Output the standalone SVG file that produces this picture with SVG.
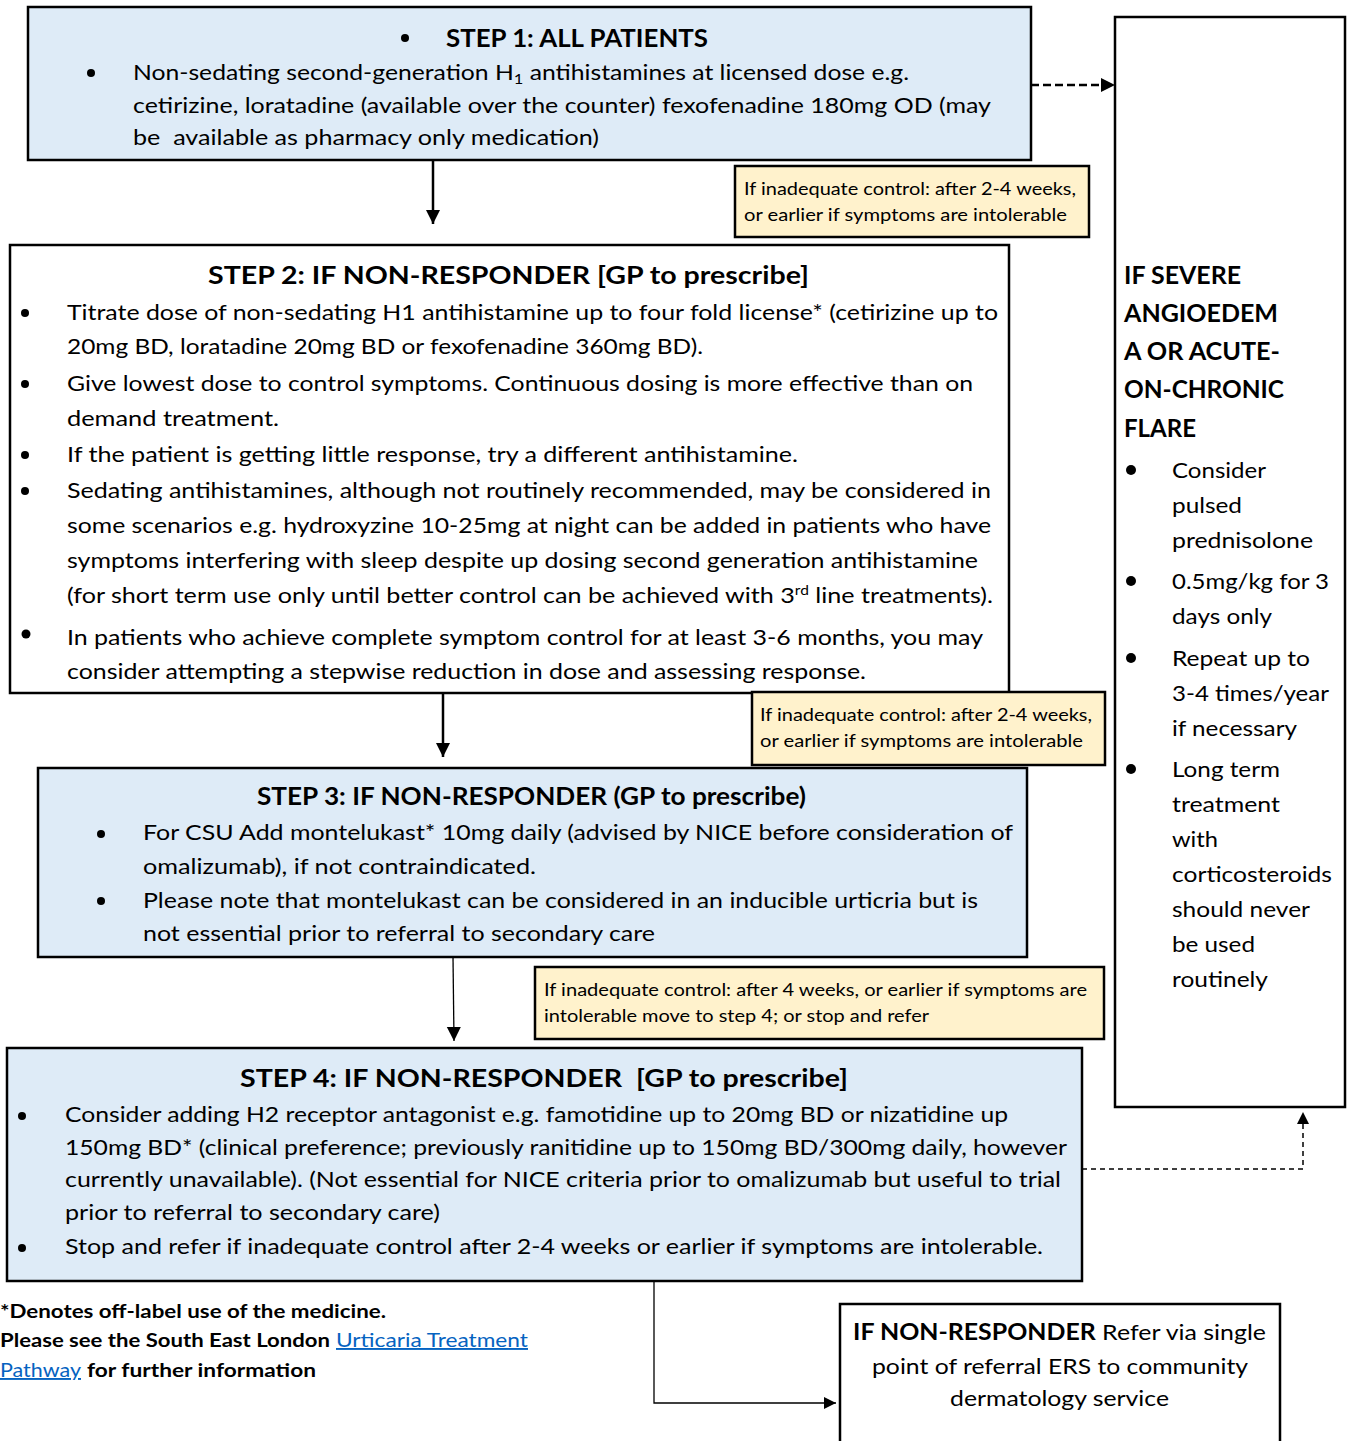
<svg xmlns="http://www.w3.org/2000/svg" width="1351" height="1441" viewBox="0 0 1351 1441">
<defs>
<style>
text{font-family:Lato,"Open Sans","Liberation Sans",sans-serif;fill:#000}
.t{font-size:25px;font-weight:bold}
.b{font-size:21px}
.y{font-size:17px}
.rb{font-size:24px;font-weight:bold}
.rt{font-size:22px}
.f{font-size:19px;font-weight:bold}
.lk{fill:#0563C1;font-weight:normal;text-decoration:underline}
.blue{fill:#DEEBF7;stroke:#000;stroke-width:2.5}
.white{fill:#fff;stroke:#000;stroke-width:2.5}
.note{fill:#FFF2CC;stroke:#000;stroke-width:2.5}
.c{fill:none;stroke:#000}
</style>
<marker id="ah" markerUnits="userSpaceOnUse" markerWidth="16" markerHeight="16" refX="14" refY="8" orient="auto"><path d="M0,1 L14,8 L0,15 z" fill="#000"/></marker>
<marker id="ahs" markerUnits="userSpaceOnUse" markerWidth="14" markerHeight="14" refX="12" refY="7" orient="auto"><path d="M0,1 L12,7 L0,13 z" fill="#000"/></marker>
</defs>

<g id="connectors">
<line class="c" x1="433" y1="160" x2="433" y2="224" stroke-width="2.5" marker-end="url(#ah)"/>
<line class="c" x1="443" y1="693" x2="443" y2="757" stroke-width="2.5" marker-end="url(#ah)"/>
<line class="c" x1="453" y1="957" x2="454" y2="1041" stroke-width="1.3" marker-end="url(#ah)"/>
<line class="c" x1="1031" y1="85" x2="1115" y2="85" stroke-width="2.5" stroke-dasharray="8,4" marker-end="url(#ah)"/>
<polyline class="c" points="1082,1169 1303,1169 1303,1112" stroke-width="1.5" stroke-dasharray="5,4" marker-end="url(#ahs)"/>
<polyline class="c" points="654,1281 654,1403 836,1403" stroke-width="1.3" marker-end="url(#ahs)"/>
</g>

<g id="step1">
<rect class="blue" x="28" y="7" width="1003" height="153"/>
<circle cx="405" cy="38" r="4"/>
<text class="t" x="446" y="47" textLength="262" lengthAdjust="spacingAndGlyphs">STEP 1: ALL PATIENTS</text>
<circle cx="91" cy="73" r="4"/>
<text class="b" x="133" y="80" textLength="776" lengthAdjust="spacingAndGlyphs">Non-sedating second-generation H<tspan font-size="14" dy="4">1</tspan><tspan dy="-4"> antihistamines at licensed dose e.g.</tspan></text>
<text class="b" x="133" y="113" textLength="858" lengthAdjust="spacingAndGlyphs">cetirizine, loratadine (available over the counter) fexofenadine 180mg OD (may</text>
<text class="b" x="133" y="145" textLength="466" lengthAdjust="spacingAndGlyphs" xml:space="preserve">be  available as pharmacy only medication)</text>
</g>

<g id="note1">
<rect class="note" x="735" y="166" width="354" height="71"/>
<text class="y" x="744" y="195" textLength="332" lengthAdjust="spacingAndGlyphs">If inadequate control: after 2-4 weeks,</text>
<text class="y" x="744" y="221" textLength="323" lengthAdjust="spacingAndGlyphs">or earlier if symptoms are intolerable</text>
</g>

<g id="step2">
<rect class="white" x="10" y="245" width="999" height="448"/>
<text class="t" x="208" y="284" textLength="601" lengthAdjust="spacingAndGlyphs">STEP 2: IF NON-RESPONDER [GP to prescribe]</text>
<circle cx="25" cy="313" r="4"/>
<text class="b" x="67" y="320" textLength="931" lengthAdjust="spacingAndGlyphs">Titrate dose of non-sedating H1 antihistamine up to four fold license* (cetirizine up to</text>
<text class="b" x="67" y="354" textLength="636" lengthAdjust="spacingAndGlyphs">20mg BD, loratadine 20mg BD or fexofenadine 360mg BD).</text>
<circle cx="25" cy="384" r="4"/>
<text class="b" x="67" y="391" textLength="906" lengthAdjust="spacingAndGlyphs">Give lowest dose to control symptoms. Continuous dosing is more effective than on</text>
<text class="b" x="67" y="426" textLength="212" lengthAdjust="spacingAndGlyphs">demand treatment.</text>
<circle cx="25" cy="455" r="4"/>
<text class="b" x="67" y="462" textLength="731" lengthAdjust="spacingAndGlyphs">If the patient is getting little response, try a different antihistamine.</text>
<circle cx="25" cy="491" r="4"/>
<text class="b" x="67" y="498" textLength="924" lengthAdjust="spacingAndGlyphs">Sedating antihistamines, although not routinely recommended, may be considered in</text>
<text class="b" x="67" y="533" textLength="924" lengthAdjust="spacingAndGlyphs">some scenarios e.g. hydroxyzine 10-25mg at night can be added in patients who have</text>
<text class="b" x="67" y="568" textLength="911" lengthAdjust="spacingAndGlyphs">symptoms interfering with sleep despite up dosing second generation antihistamine</text>
<text class="b" x="67" y="603" textLength="926" lengthAdjust="spacingAndGlyphs">(for short term use only until better control can be achieved with 3<tspan font-size="13" dy="-8">rd</tspan><tspan dy="8"> line treatments).</tspan></text>
<circle cx="26" cy="634" r="4.5"/>
<text class="b" x="67" y="645" textLength="916" lengthAdjust="spacingAndGlyphs">In patients who achieve complete symptom control for at least 3-6 months, you may</text>
<text class="b" x="67" y="679" textLength="799" lengthAdjust="spacingAndGlyphs">consider attempting a stepwise reduction in dose and assessing response.</text>
</g>

<g id="note2">
<rect class="note" x="752" y="692" width="353" height="73"/>
<text class="y" x="760" y="721" textLength="332" lengthAdjust="spacingAndGlyphs">If inadequate control: after 2-4 weeks,</text>
<text class="y" x="760" y="747" textLength="323" lengthAdjust="spacingAndGlyphs">or earlier if symptoms are intolerable</text>
</g>

<g id="step3">
<rect class="blue" x="38" y="768" width="989" height="189"/>
<text class="t" x="257" y="805" textLength="549" lengthAdjust="spacingAndGlyphs">STEP 3: IF NON-RESPONDER (GP to prescribe)</text>
<circle cx="101" cy="834" r="4"/>
<text class="b" x="143" y="840" textLength="870" lengthAdjust="spacingAndGlyphs">For CSU Add montelukast* 10mg daily (advised by NICE before consideration of</text>
<text class="b" x="143" y="874" textLength="393" lengthAdjust="spacingAndGlyphs">omalizumab), if not contraindicated.</text>
<circle cx="101" cy="901" r="4"/>
<text class="b" x="143" y="908" textLength="835" lengthAdjust="spacingAndGlyphs">Please note that montelukast can be considered in an inducible urticria but is</text>
<text class="b" x="143" y="941" textLength="512" lengthAdjust="spacingAndGlyphs">not essential prior to referral to secondary care</text>
</g>

<g id="note3">
<rect class="note" x="535" y="967" width="569" height="72"/>
<text class="y" x="544" y="996" textLength="543" lengthAdjust="spacingAndGlyphs">If inadequate control: after 4 weeks, or earlier if symptoms are</text>
<text class="y" x="544" y="1022" textLength="385" lengthAdjust="spacingAndGlyphs">intolerable move to step 4; or stop and refer</text>
</g>

<g id="step4">
<rect class="blue" x="7" y="1048" width="1075" height="233"/>
<text class="t" x="240" y="1087" textLength="608" lengthAdjust="spacingAndGlyphs" xml:space="preserve">STEP 4: IF NON-RESPONDER  [GP to prescribe]</text>
<circle cx="22" cy="1116" r="4"/>
<text class="b" x="65" y="1122" textLength="943" lengthAdjust="spacingAndGlyphs">Consider adding H2 receptor antagonist e.g. famotidine up to 20mg BD or nizatidine up</text>
<text class="b" x="65" y="1155" textLength="1002" lengthAdjust="spacingAndGlyphs">150mg BD* (clinical preference; previously ranitidine up to 150mg BD/300mg daily, however</text>
<text class="b" x="65" y="1187" textLength="996" lengthAdjust="spacingAndGlyphs">currently unavailable). (Not essential for NICE criteria prior to omalizumab but useful to trial</text>
<text class="b" x="65" y="1220" textLength="375" lengthAdjust="spacingAndGlyphs">prior to referral to secondary care)</text>
<circle cx="22" cy="1248" r="4"/>
<text class="b" x="65" y="1254" textLength="978" lengthAdjust="spacingAndGlyphs">Stop and refer if inadequate control after 2-4 weeks or earlier if symptoms are intolerable.</text>
</g>

<g id="severe">
<rect class="white" x="1115" y="17" width="230" height="1090"/>
<text class="rb" x="1124" y="284" textLength="117" lengthAdjust="spacingAndGlyphs">IF SEVERE</text>
<text class="rb" x="1124" y="322" textLength="154" lengthAdjust="spacingAndGlyphs">ANGIOEDEM</text>
<text class="rb" x="1124" y="360" textLength="156" lengthAdjust="spacingAndGlyphs">A OR ACUTE-</text>
<text class="rb" x="1124" y="398" textLength="160" lengthAdjust="spacingAndGlyphs">ON-CHRONIC</text>
<text class="rb" x="1124" y="437" textLength="72" lengthAdjust="spacingAndGlyphs">FLARE</text>
<circle cx="1131" cy="470" r="5"/>
<text class="rt" x="1172" y="478" textLength="94" lengthAdjust="spacingAndGlyphs">Consider</text>
<text class="rt" x="1172" y="513" textLength="70" lengthAdjust="spacingAndGlyphs">pulsed</text>
<text class="rt" x="1172" y="548" textLength="141" lengthAdjust="spacingAndGlyphs">prednisolone</text>
<circle cx="1131" cy="581" r="5"/>
<text class="rt" x="1172" y="589" textLength="157" lengthAdjust="spacingAndGlyphs">0.5mg/kg for 3</text>
<text class="rt" x="1172" y="624" textLength="100" lengthAdjust="spacingAndGlyphs">days only</text>
<circle cx="1131" cy="658" r="5"/>
<text class="rt" x="1172" y="666" textLength="138" lengthAdjust="spacingAndGlyphs">Repeat up to</text>
<text class="rt" x="1172" y="701" textLength="157" lengthAdjust="spacingAndGlyphs">3-4 times/year</text>
<text class="rt" x="1172" y="736" textLength="125" lengthAdjust="spacingAndGlyphs">if necessary</text>
<circle cx="1131" cy="769" r="5"/>
<text class="rt" x="1172" y="777" textLength="108" lengthAdjust="spacingAndGlyphs">Long term</text>
<text class="rt" x="1172" y="812" textLength="108" lengthAdjust="spacingAndGlyphs">treatment</text>
<text class="rt" x="1172" y="847" textLength="46" lengthAdjust="spacingAndGlyphs">with</text>
<text class="rt" x="1172" y="882" textLength="160" lengthAdjust="spacingAndGlyphs">corticosteroids</text>
<text class="rt" x="1172" y="917" textLength="138" lengthAdjust="spacingAndGlyphs">should never</text>
<text class="rt" x="1172" y="952" textLength="83" lengthAdjust="spacingAndGlyphs">be used</text>
<text class="rt" x="1172" y="987" textLength="96" lengthAdjust="spacingAndGlyphs">routinely</text>
</g>

<g id="refer">
<rect class="white" x="840" y="1304" width="440" height="150"/>
<text class="rt" x="853" y="1340" textLength="413" lengthAdjust="spacingAndGlyphs"><tspan font-weight="bold">IF NON-RESPONDER</tspan> Refer via single</text>
<text class="rt" x="872" y="1374" textLength="376" lengthAdjust="spacingAndGlyphs">point of referral ERS to community</text>
<text class="rt" x="950" y="1406" textLength="219" lengthAdjust="spacingAndGlyphs">dermatology service</text>
</g>

<g id="footer">
<text class="f" x="0" y="1318" textLength="386" lengthAdjust="spacingAndGlyphs">*Denotes off-label use of the medicine.</text>
<text class="f" x="0" y="1347" textLength="330" lengthAdjust="spacingAndGlyphs">Please see the South East London</text>
<text class="f lk" x="336" y="1347" textLength="192" lengthAdjust="spacingAndGlyphs">Urticaria Treatment</text>
<text class="f lk" x="0" y="1377" textLength="81" lengthAdjust="spacingAndGlyphs">Pathway</text>
<text class="f" x="87" y="1377" textLength="229" lengthAdjust="spacingAndGlyphs">for further information</text>
</g>
</svg>
